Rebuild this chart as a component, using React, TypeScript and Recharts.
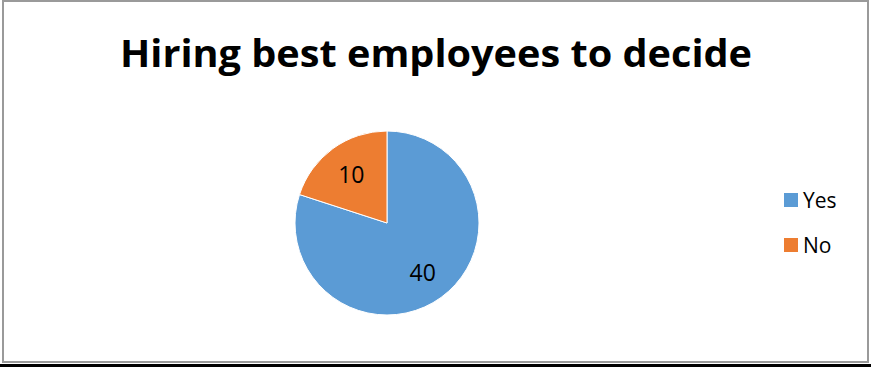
import React from 'react';
import { PieChart, Pie, Cell } from 'recharts';

const categories = ['Yes', 'No'];
const values = [40, 10];
const colors = ['#5B9BD5', '#ED7D31'];

const data = categories.map((name, i) => ({ name, value: values[i] }));

const RAD = Math.PI / 180;
const FONT = '"Open Sans", "Noto Sans", sans-serif';

const renderLabel = (props: any) => {
  const { cx, cy, midAngle, outerRadius, value } = props;
  const r = outerRadius * 0.66;
  const x = cx + r * Math.cos(-midAngle * RAD);
  const y = cy + r * Math.sin(-midAngle * RAD);
  return (
    <text x={x} y={y} fill="#000" fontSize={23} fontFamily={FONT} textAnchor="middle" dominantBaseline="central">
      {value}
    </text>
  );
};

export default function App() {
  return (
    <div style={{ position: 'absolute', left: 0, top: 0, width: 871, height: 367, background: '#fff' }}>
      <div style={{ position: 'absolute', left: 2, top: 0, width: 867, height: 363, border: '2px solid #9a9a9a', boxSizing: 'border-box' }} />
      <div style={{ position: 'absolute', left: 0, top: 364, width: 871, height: 3, background: '#000' }} />
      <div style={{ position: 'absolute', left: 0, top: 0 }}>
        <PieChart width={871} height={367} margin={{ top: 0, right: 0, bottom: 0, left: 0 }}>
          <text x={436} y={67} textAnchor="middle" fontFamily={FONT} fontWeight="bold" fontSize={38} fill="#000" textLength={632} lengthAdjust="spacingAndGlyphs">
            Hiring best employees to decide
          </text>
          <Pie
            data={data}
            dataKey="value"
            nameKey="name"
            cx={387}
            cy={223}
            outerRadius={92}
            startAngle={90}
            endAngle={-270}
            stroke="#fff"
            strokeWidth={1}
            label={renderLabel}
            labelLine={false}
            isAnimationActive={false}
          >
            {data.map((d, i) => (
              <Cell key={d.name} fill={colors[i]} />
            ))}
          </Pie>
        </PieChart>
      </div>
      <div style={{ position: 'absolute', left: 784, top: 177, fontFamily: FONT, fontSize: 21, color: '#000' }}>
        {data.map((d, i) => (
          <div key={d.name} style={{ display: 'flex', alignItems: 'center', height: 45 }}>
            <span style={{ display: 'inline-block', width: 14, height: 14, background: colors[i], marginRight: 5 }} />
            <span>{d.name}</span>
          </div>
        ))}
      </div>
    </div>
  );
}
